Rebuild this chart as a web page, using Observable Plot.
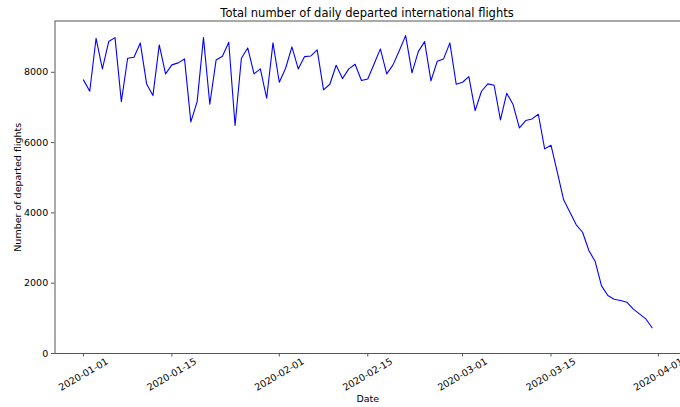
<!DOCTYPE html>
<html>
<head>
<meta charset="utf-8">
<script src="https://cdn.jsdelivr.net/npm/d3@7"></script>
<script src="https://cdn.jsdelivr.net/npm/@observablehq/plot@0.6"></script>
<style>
  body { margin: 0; background: white; }
  #title { width: 680px; height: 18px; line-height: 26px; box-sizing: border-box; padding-left: 54px;
           text-align: center; font-family: "DejaVu Sans"; font-size: 11.5px; color: #000; overflow: visible; white-space: nowrap; }
</style>
</head>
<body>
<div id="title">Total number of daily departed international flights</div>
<div id="chart"></div>
<script>
const startDate = "2020-01-01";
const flights = [
  // January
  7785, 7461, 8968, 8097, 8874, 8987, 7167, 8399, 8428, 8836, 7670, 7338, 8779, 7955, 8211, 8268,
  8381, 6590, 7167, 8987, 7091, 8353, 8456, 8854, 6485, 8399, 8694, 7955, 8097, 7262, 8836,
  // February
  7717, 8116, 8722, 8097, 8447, 8466, 8637, 7500, 7660, 8200, 7821, 8097, 8229, 7765, 7812,
  8238, 8666, 7955, 8211, 8618, 9044, 7983, 8589, 8874, 7755, 8314, 8381, 8836, 7660,
  // March
  7717, 7878, 6911, 7461, 7670, 7632, 6646, 7405, 7082, 6418, 6627, 6674, 6806, 5821, 5925,
  5157, 4371, 4019, 3660, 3450, 2929, 2617, 1925, 1650, 1545, 1507, 1460, 1271, 1129, 987, 731
];
const xTickLabels = ["2020-01-01", "2020-01-15", "2020-02-01", "2020-02-15", "2020-03-01", "2020-03-15", "2020-04-01"];
const yTickValues = [0, 2000, 4000, 6000, 8000];
const xLabel = "Date";
const yLabel = "Number of departed flights";

const start = new Date(startDate + "T00:00:00Z");
const data = flights.map((v, i) => ({date: d3.utcDay.offset(start, i), value: v}));
const xTicks = xTickLabels.map(s => new Date(s + "T00:00:00Z"));

const first = data[0].date, last = data[data.length - 1].date;
const pad = (last - first) * 0.05;
const yMax = d3.max(flights);
const yMin = d3.min(flights);
const yTop = yMax + (yMax - yMin) * 0.05;

const chart = Plot.plot({
  width: 680,
  height: 389,
  marginLeft: 54.5,
  marginRight: 0,
  marginTop: 2.5,
  marginBottom: 54,
  style: {fontFamily: "DejaVu Sans", fontSize: "9.5px", color: "#000", background: "white", overflow: "hidden"},
  x: {type: "utc", domain: [new Date(+first - pad), new Date(+last + pad)]},
  y: {domain: [0, yTop]},
  marks: [
    Plot.line(data, {x: "date", y: "value", stroke: "#0000ff", strokeWidth: 1.1}),
    Plot.frame({stroke: "#555", strokeWidth: 1}),
    Plot.axisY({ticks: yTickValues, tickSize: 3.5, tickPadding: 3.3, tickFormat: d3.format("d"), fontSize: 9.5, label: null, stroke: "#555", fill: "#000"}),
    Plot.axisX({ticks: xTicks, tickSize: 3.5, tickFormat: () => "", label: null, stroke: "#555"}),
    Plot.text(xTicks, {x: d => d, frameAnchor: "bottom", dy: 21, rotate: -30, text: d => d3.utcFormat("%Y-%m-%d")(d),
      fontSize: 9.5, textAnchor: "middle", lineAnchor: "middle", fill: "#000"}),
    Plot.text([xLabel], {frameAnchor: "bottom", dy: 45, text: d => d, fontSize: 9.5, textAnchor: "middle", lineAnchor: "middle", fill: "#000"}),
    Plot.text([yLabel], {frameAnchor: "left", dx: -37, rotate: -90, text: d => d, fontSize: 9.5, textAnchor: "middle", lineAnchor: "middle", fill: "#000"})
  ]
});
document.getElementById("chart").appendChild(chart);
</script>
</body>
</html>
